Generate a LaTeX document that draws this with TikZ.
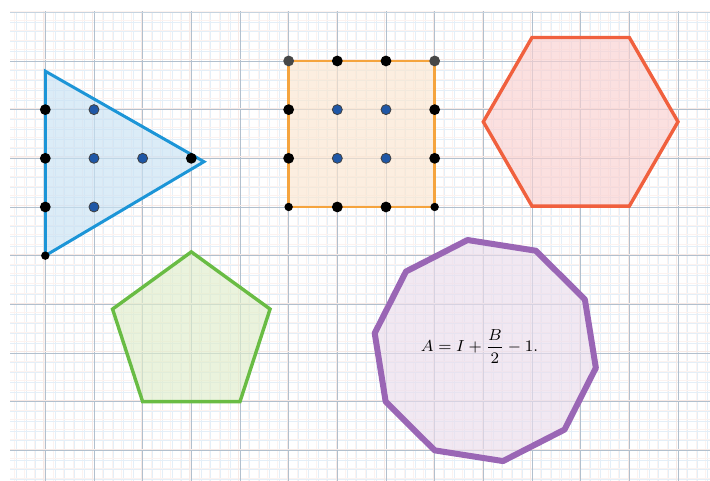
\documentclass[tikz,border=0pt]{standalone}
\usepackage{xcolor}
\definecolor{gridmajor}{HTML}{B2C0CE}
\definecolor{gridminor}{HTML}{E4EFF8}
\definecolor{gridpink}{HTML}{FCF3F0}
\definecolor{majpink}{HTML}{F7EAE6}
\definecolor{triline}{HTML}{1C95D7}
\definecolor{trifill}{HTML}{C9E2F4}
\definecolor{sqline}{HTML}{F5A43E}
\definecolor{sqfill}{HTML}{FBE6D0}
\definecolor{hexline}{HTML}{F0603E}
\definecolor{hexfill}{HTML}{FAD0D0}
\definecolor{pentline}{HTML}{69BC44}
\definecolor{pentfill}{HTML}{E0EDCB}
\definecolor{decline}{HTML}{9A66B5}
\definecolor{decfill}{HTML}{EADDEC}
\definecolor{dotblue}{HTML}{1F57A6}
\definecolor{dotgrey}{HTML}{474747}
\tikzset{
  minorv/.style={gridminor, line width=0.3pt},
  minorp/.style={gridpink, line width=0.3pt},
  majorl/.style={gridmajor, line width=0.45pt},
  majorp/.style={majpink, line width=0.35pt},
  shapefill/.style={fill opacity=0.65},
  bdot/.style={fill=black},
  gdot/.style={fill=dotgrey},
  udot/.style={fill=dotblue, draw=black!75, line width=0.4pt},
}
\begin{document}
\begin{tikzpicture}[x=24.335pt, y=-24.335pt]
\useasboundingbox (-0.9308,-0.2527) rectangle (13.6574,9.6302);
\fill[white] (-0.9308,-0.2527) rectangle (13.6574,9.6302);
% grid
\begin{scope}
\clip (-0.725,-0.02) rectangle (13.6574,9.6302);
\foreach \i in {-4,...,69} {
  \draw[minorp] ({\i/5-0.03},-0.1) -- ({\i/5-0.03},9.8);
  \draw[minorv] ({\i/5},-0.1) -- ({\i/5},9.8);
}
\foreach \j in {0,...,49} {
  \draw[minorp] (-1,{\j/5-0.03}) -- (14,{\j/5-0.03});
  \draw[minorv] (-1,{\j/5}) -- (14,{\j/5});
}
\foreach \i in {0,...,13} {
  \draw[majorp] ({\i-0.03},-0.1) -- ({\i-0.03},9.8);
  \draw[majorl] (\i,-0.1) -- (\i,9.8);
}
\foreach \j in {1,...,9} {
  \draw[majorp] (-1,{\j-0.03}) -- (14,{\j-0.03});
  \draw[majorl] (-1,\j) -- (14,\j);
}
\draw[gridminor!40!gridmajor, line width=0.5pt] (-1,0) -- (14,0);
\end{scope}
% triangle
\fill[trifill, shapefill] (0,1.21) -- (3.26,3.07) -- (0,5) -- cycle;
\draw[triline, line width=1.5pt, line join=miter] (0,1.21) -- (3.26,3.07) -- (0,5) -- cycle;
\foreach \p in {(0,2),(0,3),(0,4),(3,3)} \fill[bdot] \p circle[radius=2.7pt];
\fill[bdot] (0,5) circle[radius=2.1pt];
\foreach \p in {(1,2),(1,3),(2,3),(1,4)} \draw[udot] \p circle[radius=2.5pt];
% square
\fill[sqfill, shapefill] (5,1) rectangle (8,4);
\draw[sqline, line width=1.4pt] (5,1) rectangle (8,4);
\foreach \p in {(6,1),(7,1),(5,2),(8,2),(5,3),(8,3),(6,4),(7,4)} \fill[bdot] \p circle[radius=2.7pt];
\foreach \p in {(5,1),(8,1)} \fill[gdot] \p circle[radius=2.7pt];
\foreach \p in {(5,4),(8,4)} \fill[bdot] \p circle[radius=2.1pt];
\foreach \p in {(6,2),(7,2),(6,3),(7,3)} \draw[udot] \p circle[radius=2.5pt];
% hexagon
\fill[hexfill, shapefill] (9,2.25) -- (10,0.518) -- (12,0.518) -- (13,2.25) -- (12,3.982) -- (10,3.982) -- cycle;
\draw[hexline, line width=1.7pt] (9,2.25) -- (10,0.518) -- (12,0.518) -- (13,2.25) -- (12,3.982) -- (10,3.982) -- cycle;
% pentagon
\fill[pentfill, shapefill] (3,4.923) -- (4.618,6.098) -- (4,8) -- (2,8) -- (1.382,6.098) -- cycle;
\draw[pentline, line width=1.7pt] (3,4.923) -- (4.618,6.098) -- (4,8) -- (2,8) -- (1.382,6.098) -- cycle;
% decagon
\fill[decfill, shapefill] (11.312,7.306) -- (10.669,8.574) -- (9.404,9.221) -- (8.000,9.001) -- (6.993,7.998) -- (6.768,6.594) -- (7.411,5.326) -- (8.676,4.679) -- (10.080,4.899) -- (11.087,5.902) -- cycle;
\draw[decline, line width=3pt, line join=round] (11.312,7.306) -- (10.669,8.574) -- (9.404,9.221) -- (8.000,9.001) -- (6.993,7.998) -- (6.768,6.594) -- (7.411,5.326) -- (8.676,4.679) -- (10.080,4.899) -- (11.087,5.902) -- cycle;
\node[inner sep=0pt, font=\fontsize{7.8}{9}\selectfont] (formula) at (8.92,6.87) {$\displaystyle A = I + \frac{B}{2} - 1.$};
\end{tikzpicture}
\end{document}
